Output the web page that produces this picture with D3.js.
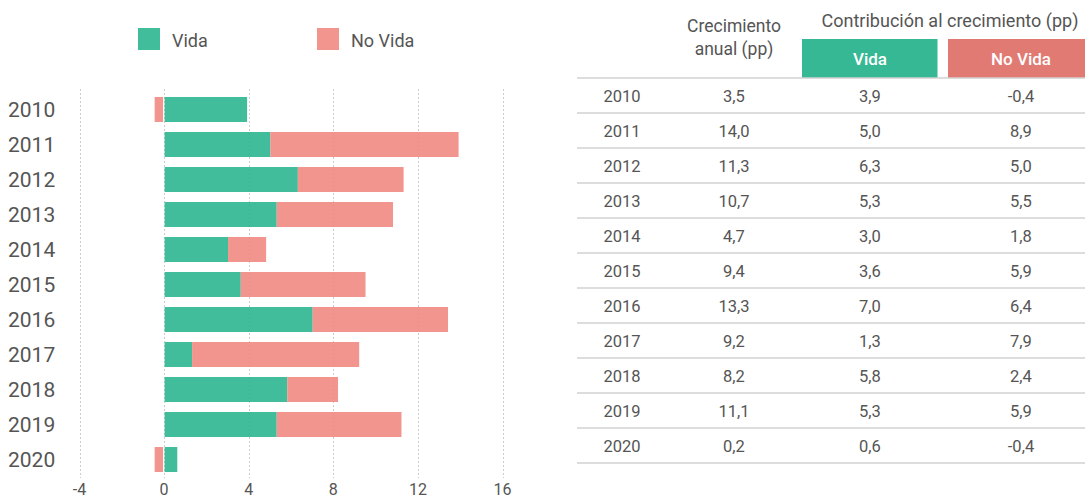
<!DOCTYPE html>
<html>
<head>
<meta charset="utf-8">
<script src="https://cdn.jsdelivr.net/npm/d3@7"></script>
<style>
  html, body { margin: 0; padding: 0; background: #fff; }
  svg { display: block; font-family: Roboto, "Noto Sans", sans-serif; }
</style>
</head>
<body>
<svg id="chart" width="1085" height="500"></svg>
<script>
const years = ["2010","2011","2012","2013","2014","2015","2016","2017","2018","2019","2020"];
const vida = [3.9, 5.0, 6.3, 5.3, 3.0, 3.6, 7.0, 1.3, 5.8, 5.3, 0.6];
const noVida = [-0.4, 8.9, 5.0, 5.5, 1.8, 5.9, 6.4, 7.9, 2.4, 5.9, -0.4];
const total = [3.5, 14.0, 11.3, 10.7, 4.7, 9.4, 13.3, 9.2, 8.2, 11.1, 0.2];
const xTicks = [-4, 0, 4, 8, 12, 16];
const seriesNames = ["Vida", "No Vida"];
const colHeaders = ["Crecimiento", "anual (pp)", "Contribución al crecimiento (pp)"];

const colors = { vida: "#2EB691", noVida: "#EF8982", vidaHead: "#36B894", noVidaHead: "#E07A73", text: "#555555", grid: "#cccccc", rule: "#d2d2d2" };

const svg = d3.select("#chart");
const fmt = v => v.toFixed(1).replace(".", ",");

// ---------- Bar chart ----------
const x = d3.scaleLinear().domain([-4, 16]).range([79.5, 502.5]);
const y = d3.scaleBand().domain(years).range([92, 477]).paddingInner(0.286).paddingOuter(0.143);

const g = svg.append("g");

// gridlines
g.selectAll("line.grid").data(xTicks).enter().append("line")
  .attr("class", "grid")
  .attr("x1", d => Math.round(x(d)) + 0.5).attr("x2", d => Math.round(x(d)) + 0.5)
  .attr("y1", 89).attr("y2", 478)
  .attr("stroke", colors.grid).attr("stroke-width", 1).attr("stroke-dasharray", "2,2");

// tick labels
g.selectAll("text.tick").data(xTicks).enter().append("text")
  .attr("x", d => x(d)).attr("y", 495)
  .attr("text-anchor", "middle")
  .attr("font-size", 16).attr("fill", colors.text)
  .text(d => d);

// year labels
g.selectAll("text.year").data(years).enter().append("text")
  .attr("x", 8).attr("y", d => y(d) + y.bandwidth() / 2 + 7.5)
  .attr("font-size", 21).attr("fill", colors.text)
  .text(d => d);

const rows = years.map((yr, i) => ({ yr, v: vida[i], n: noVida[i] }));

// Vida bars
g.selectAll("rect.vida").data(rows).enter().append("rect")
  .attr("x", d => x(Math.min(0, d.v)) + 0.5)
  .attr("width", d => Math.abs(x(d.v) - x(0)))
  .attr("y", d => y(d.yr)).attr("height", y.bandwidth())
  .attr("fill", colors.vida).attr("fill-opacity", 0.9);

// No Vida bars (stacked after Vida if positive, left of zero if negative)
g.selectAll("rect.novida").data(rows).enter().append("rect")
  .attr("x", d => d.n >= 0 ? x(d.v) + 0.5 : x(d.n) - 1)
  .attr("width", d => d.n >= 0 ? x(d.v + d.n) - x(d.v) : x(0) - x(d.n))
  .attr("y", d => y(d.yr)).attr("height", y.bandwidth())
  .attr("fill", colors.noVida).attr("fill-opacity", 0.9);

// legend
const legend = [
  { name: seriesNames[0], color: colors.vida, x: 138 },
  { name: seriesNames[1], color: colors.noVida, x: 317 }
];
const lg = svg.append("g").selectAll("g").data(legend).enter().append("g");
lg.append("rect").attr("x", d => d.x).attr("y", 28).attr("width", 22).attr("height", 22)
  .attr("fill", d => d.color).attr("fill-opacity", 0.9);
lg.append("text").attr("x", d => d.x + 34).attr("y", 47).attr("font-size", 18)
  .attr("fill", colors.text).text(d => d.name);

// ---------- Table ----------
const t = svg.append("g");
const colX = [622, 734, 870, 1021];
const rowTop = 78, rowH = 35;

t.append("text").attr("x", colX[1]).attr("y", 32).attr("text-anchor", "middle")
  .attr("font-size", 17.5).attr("fill", colors.text).text(colHeaders[0]);
t.append("text").attr("x", colX[1]).attr("y", 55).attr("text-anchor", "middle")
  .attr("font-size", 17.5).attr("fill", colors.text).text(colHeaders[1]);
t.append("text").attr("x", 950).attr("y", 26.5).attr("text-anchor", "middle")
  .attr("font-size", 18).attr("fill", colors.text).text(colHeaders[2]);

const heads = [
  { name: seriesNames[0], x0: 802, x1: 937.5, color: colors.vidaHead, cx: colX[2] },
  { name: seriesNames[1], x0: 948, x1: 1085, color: colors.noVidaHead, cx: colX[3] }
];
t.selectAll("rect.head").data(heads).enter().append("rect")
  .attr("x", d => d.x0).attr("y", 39).attr("width", d => d.x1 - d.x0).attr("height", 39)
  .attr("fill", d => d.color);
t.selectAll("text.head").data(heads).enter().append("text")
  .attr("x", d => d.cx).attr("y", 65).attr("text-anchor", "middle")
  .attr("font-size", 17).attr("font-weight", 500).attr("fill", "#ffffff").text(d => d.name);

// row rules
t.selectAll("line.rule").data(d3.range(years.length + 1)).enter().append("line")
  .attr("x1", 577).attr("x2", 1085)
  .attr("y1", i => rowTop + i * rowH).attr("y2", i => rowTop + i * rowH)
  .attr("stroke", colors.rule).attr("stroke-width", 1.5);

// row contents
const tableRows = years.map((yr, i) => [yr, fmt(total[i]), fmt(vida[i]), fmt(noVida[i])]);
const tr = t.selectAll("g.row").data(tableRows).enter().append("g")
  .attr("transform", (d, i) => `translate(0,${rowTop + i * rowH + rowH / 2 + 6})`);
tr.selectAll("text").data(d => d).enter().append("text")
  .attr("x", (d, j) => colX[j]).attr("text-anchor", "middle")
  .attr("font-size", 16.5).attr("fill", colors.text).text(d => d);
</script>
</body>
</html>
